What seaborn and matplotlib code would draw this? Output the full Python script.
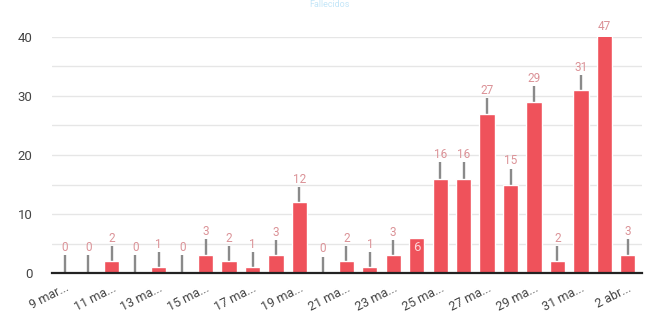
import matplotlib
matplotlib.use("Agg")
import matplotlib.pyplot as plt
import seaborn as sns
import pandas as pd
import numpy as np

dates = ["9 mar", "10 mar", "11 mar", "12 mar", "13 mar", "14 mar", "15 mar", "16 mar",
         "17 mar", "18 mar", "19 mar", "20 mar", "21 mar", "22 mar", "23 mar", "24 mar",
         "25 mar", "26 mar", "27 mar", "28 mar", "29 mar", "30 mar", "31 mar", "1 abr", "2 abr"]
values = [0, 0, 2, 0, 1, 0, 3, 2, 1, 3, 12, 0, 2, 1, 3, 6, 16, 16, 27, 15, 29, 2, 31, 47, 3]
stem = [3.0, 3.0, 2.6, 3.0, 2.6, 3.0, 2.7, 2.6, 2.6, 2.6, 2.5, 2.8, 2.6, 2.6, 2.6, 0.0,
        2.8, 2.8, 2.7, 2.7, 2.7, 2.6, 2.6, 0.0, 2.7]
tick_labels = ["9 mar...", "11 ma...", "13 ma...", "15 ma...", "17 ma...", "19 ma...",
               "21 ma...", "23 ma...", "25 ma...", "27 ma...", "29 ma...", "31 ma...", "2 abr..."]
title = "Fallecidos"

sns.set_style("white")
plt.rcParams['font.family'] = ['Roboto', 'DejaVu Sans']

df = pd.DataFrame({"fecha": dates, "valor": values})

fig = plt.figure(figsize=(6.59, 3.16), dpi=100)
ax = fig.add_axes([0.079, 0.136, 0.895, 0.747])

bar_color = "#ef525b"
sns.barplot(data=df, x="fecha", y="valor", color=bar_color, width=0.65,
            saturation=1, ax=ax, zorder=3)

x = np.arange(len(values))
vals = np.array(values, dtype=float)
st = np.array(stem)
mask = st > 0
ax.vlines(x[mask], vals[mask], vals[mask] + st[mask], color="#8a8a8a", lw=1.7, zorder=2)

ax.set_ylim(0, 40)
ax.set_xlim(-0.55, len(values) - 0.4)

for i, v in enumerate(values):
    if st[i] == 0 and v < 40:
        ax.text(i, v - 0.5, str(v), ha="center", va="top", fontsize=9.5,
                color="#fcd6d8", zorder=5)
    else:
        top = min(v + st[i], 40) if v < 40 else 40.4
        ax.text(i, top + 0.2, str(v), ha="center", va="bottom", fontsize=8.5,
                color="#db9297", zorder=5, clip_on=False)

ax.set_yticks([0, 10, 20, 30, 40])
ax.set_yticks([5, 15, 25, 35], minor=True)
ax.yaxis.grid(True, which="both", color="#e6e6e6", lw=1)
ax.set_axisbelow(True)
ax.tick_params(axis="y", length=0, labelsize=9.5, labelcolor="#444444", pad=14)
ax.tick_params(axis="y", which="minor", length=0)

ax.set_xticks(np.arange(0, len(values), 2))
ax.set_xticklabels(tick_labels, rotation=27, ha="right", rotation_mode="anchor",
                   fontsize=9, color="#444444")
ax.tick_params(axis="x", length=0, pad=6)

for s in ["top", "right", "left"]:
    ax.spines[s].set_visible(False)
ax.spines["bottom"].set_color("#222222")
ax.spines["bottom"].set_linewidth(1.6)
ax.spines["bottom"].set_zorder(6)

ax.set_xlabel("")
ax.set_ylabel("")

fig.text(0.5, 0.999, title, ha="center", va="top", fontsize=6.5,
         color="#c4e6f8")

fig.savefig("out.png", dpi=100)
